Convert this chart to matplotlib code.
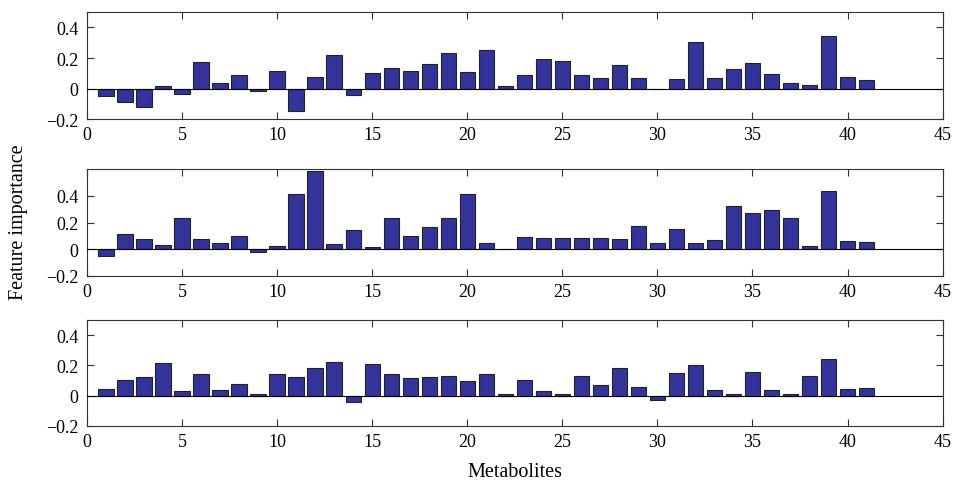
import numpy as np
from matplotlib import pyplot as plt

# feature importance per metabolite (three models)
metabolites = np.arange(1, 42)
imp_a = [-0.05, -0.09, -0.12, 0.02, -0.035, 0.175, 0.04, 0.087, -0.017, 0.113,
         -0.143, 0.076, 0.22, -0.04, 0.10, 0.137, 0.115, 0.163, 0.235, 0.107,
         0.25, 0.017, 0.091, 0.191, 0.18, 0.087, 0.07, 0.157, 0.07, 0.0,
         0.063, 0.307, 0.07, 0.126, 0.17, 0.093, 0.035, 0.024, 0.341, 0.076,
         0.059]
imp_b = [-0.05, 0.112, 0.078, 0.03, 0.235, 0.078, 0.048, 0.10, -0.02, 0.028,
         0.418, 0.585, 0.043, 0.143, 0.015, 0.235, 0.10, 0.168, 0.235, 0.418,
         0.05, 0.0, 0.095, 0.088, 0.083, 0.088, 0.088, 0.075, 0.175, 0.048,
         0.153, 0.048, 0.07, 0.323, 0.273, 0.298, 0.233, 0.023, 0.438, 0.063,
         0.055]
imp_c = [0.044, 0.101, 0.121, 0.218, 0.029, 0.145, 0.04, 0.079, 0.011, 0.145,
         0.125, 0.18, 0.22, -0.044, 0.207, 0.143, 0.119, 0.125, 0.13, 0.099,
         0.143, 0.009, 0.101, 0.029, 0.011, 0.127, 0.07, 0.182, 0.059, -0.031,
         0.152, 0.204, 0.04, 0.011, 0.156, 0.04, 0.011, 0.127, 0.242, 0.046,
         0.053]
ylims = [(-0.2, 0.5), (-0.2, 0.6), (-0.2, 0.5)]

plt.rcParams['font.family'] = 'Liberation Serif'
plt.rcParams['font.size'] = 13
plt.rcParams['xtick.direction'] = 'in'
plt.rcParams['ytick.direction'] = 'in'

fig = plt.figure(figsize=(9.55, 4.85), dpi=100)
boxes = [[0.091, 0.752, 0.896, 0.221],
         [0.091, 0.429, 0.896, 0.220],
         [0.091, 0.120, 0.896, 0.218]]

for box, vals, yl in zip(boxes, [imp_a, imp_b, imp_c], ylims):
    ax = fig.add_axes(box)
    ax.bar(metabolites, vals, width=0.8, color='#333399',
           edgecolor='#222222', linewidth=0.8, zorder=2)
    ax.axhline(0, color='black', lw=0.8, zorder=3)
    ax.set_xlim(0, 45)
    ax.set_ylim(*yl)
    ax.set_xticks(np.arange(0, 46, 5))
    ax.set_yticks([-0.2, 0, 0.2, 0.4])
    ax.set_yticklabels(['\u22120.2', '0', '0.2', '0.4'])
    ax.xaxis.set_ticks_position('both')
    ax.yaxis.set_ticks_position('both')
    ax.tick_params(length=5, width=0.8, labelsize=13, color='#333333')
    ax.tick_params(axis='y', pad=6)
    ax.tick_params(axis='x', pad=5)
    for s in ax.spines.values():
        s.set_linewidth(0.8)
        s.set_color('#333333')

fig.text(0.019, 0.542, 'Feature importance', rotation=90,
         va='center', ha='center', fontsize=14.5)
fig.text(0.539, 0.025, 'Metabolites', ha='center', va='center', fontsize=14.5)

fig.savefig('out.png', dpi=100)
